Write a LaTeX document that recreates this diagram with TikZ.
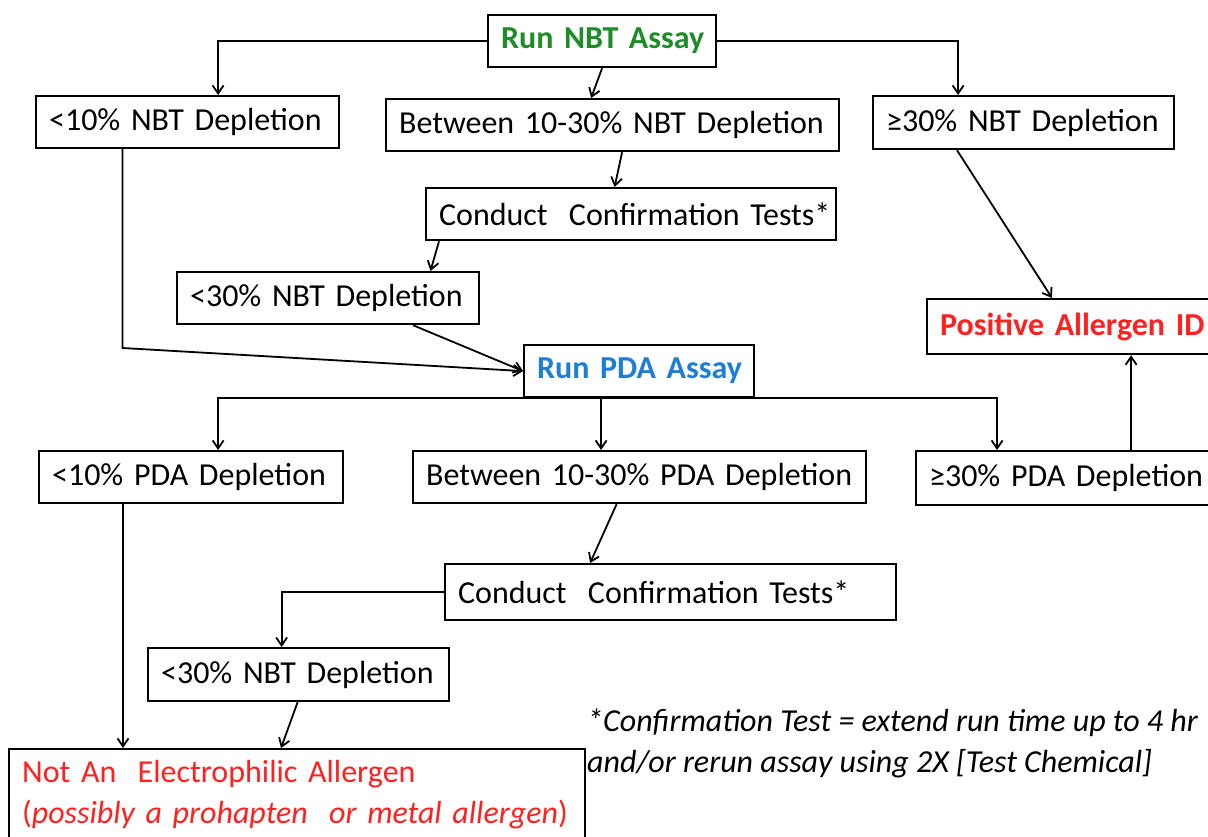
\documentclass[tikz,border=0pt]{standalone}
\usepackage{fontspec}
\setmainfont{Carlito}
\usetikzlibrary{arrows.meta,calc}
\definecolor{nbtgreen}{RGB}{30,140,40}
\definecolor{pdablue}{RGB}{30,125,215}
\definecolor{allred}{RGB}{255,32,32}
\newcommand\chartfont{\fontsize{32pt}{41pt}\selectfont}
\tikzset{
	box/.style={draw, line width=2.2pt, inner xsep=13pt, inner ysep=0pt, minimum height=52pt, anchor=north west, text width=#1, font=\chartfont, execute at begin node={\hbox to\hsize\bgroup}, execute at end node={\hfil\egroup}},
	tallbox/.style={draw, line width=2.2pt, inner xsep=13pt, inner ysep=0pt, anchor=north west, align=left, text width=#1, font=\chartfont},
	arr/.style={-{Straight Barb[length=8pt,width=11pt]}, line width=1.8pt},
}

\begin{document}
\begin{tikzpicture}[x=1pt, y=-1pt]
		%%%%% START %%%%%
		\useasboundingbox (0,0) rectangle (1208,836);
		
		% NBT assay
		\node[box=202pt, text=nbtgreen, font=\chartfont\bfseries] (runnbt) at (487,14) {\hfil Run NBT Assay};
		\node[box=277pt] (lt10nbt) at (35,95) {<10\% NBT Depletion};
		\node[box=427pt] (midnbt) at (385,98) {Between 10-30\% NBT Depletion};
		\node[box=275pt, minimum height=53pt] (ge30nbt) at (872,95) {≥30\% NBT Depletion};
		\node[box=384pt] (conf1) at (425,187) {Conduct~ Confirmation Tests*};
		\node[box=276pt] (lt30nbt1) at (176,271) {<30\% NBT Depletion};
		\node[box=260pt, minimum height=55pt, text=allred, font=\chartfont\bfseries] (positive) at (926,298) {Positive Allergen ID};
		
		% PDA assay
		\node[box=204pt, text=pdablue, font=\chartfont\bfseries] (runpda) at (523,344) {\hfil Run PDA Assay};
		\node[box=278pt] (lt10pda) at (38,450) {<10\% PDA Depletion};
		\node[box=427pt] (midpda) at (412,450) {Between 10-30\% PDA Depletion};
		\node[box=271pt, minimum height=54pt] (ge30pda) at (915,450) {≥30\% PDA Depletion};
		\node[box=425pt, minimum height=56pt] (conf2) at (444,563) {Conduct~ Confirmation Tests*};
		\node[box=275pt, minimum height=53pt] (lt30nbt2) at (147,647) {<30\% NBT Depletion};
		\node[tallbox=550pt, minimum height=92pt, text=allred] (notel) at (8,748) {Not An~ Electrophilic Allergen\\(\textit{possibly a prohapten~ or metal allergen})};
		
		\node[anchor=west, inner sep=0pt, align=left, font=\chartfont\itshape] (footnote) at (587,743) {*Confirmation Test = extend run time up to 4 hr\\and/or rerun assay using 2X [Test Chemical]};
		
		% connectors
		\coordinate (bendA) at (122.5,348);
		\draw[arr] (runnbt.west) -| ([xshift=30.5]lt10nbt.north);
		\draw[arr] (runnbt.east) -| ([xshift=-65.5]ge30nbt.north);
		\draw[arr] (runnbt.south) -- ([xshift=-21.5]midnbt.north);
		\draw[arr] ([xshift=9.5]midnbt.south) -- ([xshift=-16.5]conf1.north);
		\draw[arr] ([xshift=14]conf1.south west) -- ([xshift=254.5]lt30nbt1.north west);
		\draw[arr] (lt10nbt.south -| bendA) -- (bendA) -- (runpda.west);
		\draw[arr] ([xshift=237]lt30nbt1.south west) -- (runpda.west);
		\draw[arr] ([xshift=85]ge30nbt.south west) -- ([xshift=126]positive.north west);
		
		\draw[arr] (runpda.south) -| ([xshift=27]lt10pda.north);
		\draw[arr] (runpda.south) -| ([xshift=-67.5]ge30pda.north);
		\draw[arr] ([xshift=-38]runpda.south) -- ([xshift=-38]runpda.south |- midpda.north);
		\draw[arr] ([xshift=61]positive.south |- ge30pda.north) -- ([xshift=61]positive.south);
		\draw[arr] ([xshift=-23]midpda.south) -- ([xshift=-80.5]conf2.north);
		\draw[arr] (conf2.west) -| ([xshift=-17]lt30nbt2.north);
		\draw[arr] ([xshift=85]lt10pda.south west) -- ([xshift=85]lt10pda.south west |- notel.north);
		\draw[arr] ([xshift=-1]lt30nbt2.south) -- ([xshift=273]notel.north west);
		%%%%% END %%%%%
\end{tikzpicture}
\end{document}
